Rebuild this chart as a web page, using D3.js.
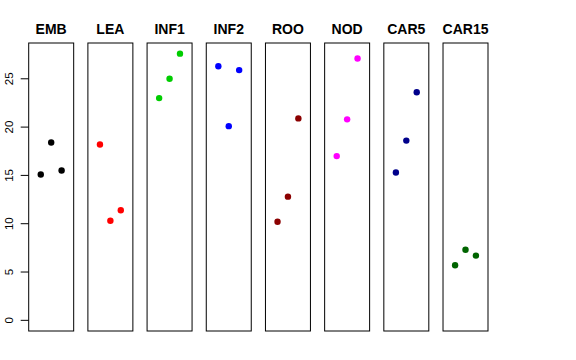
<!DOCTYPE html>
<html lang="en">
<head>
  <meta charset="UTF-8">
  <title>Strip panels</title>
  <script src="https://d3js.org/d3.v7.min.js"></script>
</head>
<body style="margin: 0; padding: 0; overflow: hidden; background: #fff;">
  <svg id="chart"></svg>

  <script>
    // tissues, one panel each
    const tissues = ["EMB", "LEA", "INF1", "INF2", "ROO", "NOD", "CAR5", "CAR15"];
    const colors = ["#000000", "#ff0000", "#00cd00", "#0000ff", "#8b0000", "#ff00ff", "#00008b", "#006400"];
    // three replicates per tissue
    const rep1 = [15.1, 18.2, 23.0, 26.3, 10.2, 17.0, 15.3, 5.7];
    const rep2 = [18.4, 10.3, 25.0, 20.1, 12.8, 20.8, 18.6, 7.3];
    const rep3 = [15.5, 11.4, 27.6, 25.9, 20.9, 27.1, 23.6, 6.7];
    const yTicks = [0, 5, 10, 15, 20, 25];

    const width = 576, height = 360;
    const svg = d3.select("#chart").attr("width", width).attr("height", height);

    const panel = d3.scaleBand().domain(tissues).range([28.7, 488]).paddingInner(0.24).paddingOuter(0);

    const yMax = d3.max([...rep1, ...rep2, ...rep3]);
    const y = d3.scaleLinear().domain([-0.04 * yMax, yMax * 1.04]).range([331, 43]);
    const x = d3.scaleLinear().domain([-0.16, 4.16]).range([0, panel.bandwidth()]);

    const points = [];
    tissues.forEach((t, i) => {
      [rep1[i], rep2[i], rep3[i]].forEach((v, j) => points.push({ tissue: t, rep: j + 1, value: v, color: colors[i] }));
    });

    // panel boxes and titles
    const g = svg.selectAll(".panel")
      .data(tissues)
      .enter()
      .append("g")
      .attr("class", "panel")
      .attr("transform", d => `translate(${panel(d)},0)`);

    g.append("rect")
      .attr("x", 0)
      .attr("y", y.range()[1])
      .attr("width", panel.bandwidth())
      .attr("height", y.range()[0] - y.range()[1])
      .attr("fill", "none")
      .attr("stroke", "#000")
      .attr("stroke-width", 1);

    g.append("text")
      .attr("x", panel.bandwidth() / 2)
      .attr("y", 34)
      .attr("text-anchor", "middle")
      .attr("font-family", "Liberation Sans, Arial, sans-serif")
      .attr("font-weight", "bold")
      .attr("font-size", "14px")
      .text(d => d);

    // points
    svg.selectAll(".pt")
      .data(points)
      .enter()
      .append("circle")
      .attr("class", "pt")
      .attr("cx", d => panel(d.tissue) + x(d.rep))
      .attr("cy", d => y(d.value))
      .attr("r", 3.2)
      .attr("fill", d => d.color);

    // y axis on the first panel
    const x0 = panel(tissues[0]);
    const axis = svg.append("g").attr("font-family", "Liberation Sans, Arial, sans-serif");
    axis.selectAll("line")
      .data(yTicks)
      .enter()
      .append("line")
      .attr("x1", x0 - 8)
      .attr("x2", x0)
      .attr("y1", d => y(d))
      .attr("y2", d => y(d))
      .attr("stroke", "#000");
    axis.selectAll("text")
      .data(yTicks)
      .enter()
      .append("text")
      .attr("transform", d => `translate(13.3,${y(d)}) rotate(-90)`)
      .attr("text-anchor", "middle")
      .attr("font-size", "11.5px")
      .text(d => d);
  </script>
</body>
</html>
